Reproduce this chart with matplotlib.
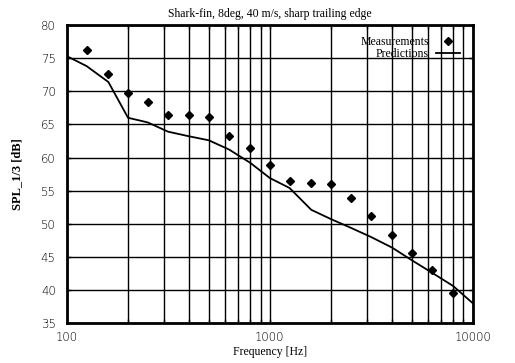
import matplotlib
matplotlib.use("Agg")
import matplotlib.pyplot as plt
from matplotlib.ticker import LogLocator, NullFormatter, FixedLocator

freq_meas = [125, 160, 200, 250, 315, 400, 500, 630, 800, 1000, 1250, 1600,
             2000, 2500, 3150, 4000, 5000, 6300, 8000]
spl_meas = [76.2, 72.6, 69.7, 68.4, 66.4, 66.4, 66.1, 63.2, 61.4, 58.9, 56.5,
            56.2, 56.0, 53.9, 51.2, 48.3, 45.6, 43.0, 39.5]

freq_pred = [100, 125, 160, 200, 250, 315, 400, 500, 630, 800, 1000, 1250,
             1600, 2000, 2500, 3150, 4000, 5000, 6300, 8000, 10000]
spl_pred = [75.3, 73.8, 71.4, 66.0, 65.3, 63.9, 63.2, 62.6, 61.2, 59.2, 56.9,
            55.4, 52.1, 50.7, 49.4, 48.0, 46.4, 44.5, 42.6, 40.6, 38.0]

title = "Shark-fin, 8deg, 40 m/s, sharp trailing edge"
xlabel = "Frequency [Hz]"
ylabel = "SPL_1/3 [dB]"
xticks = [100, 1000, 10000]
yticks = [35, 40, 45, 50, 55, 60, 65, 70, 75, 80]

serif = ["Liberation Serif", "DejaVu Serif"]

fig = plt.figure(figsize=(5.15, 3.63), dpi=100)
ax = fig.add_axes([0.130, 0.110, 0.788, 0.821])

ax.set_xscale("log")
ax.set_xlim(100, 10000)
ax.set_ylim(35, 80)

ax.plot(freq_pred, spl_pred, color="black", lw=1.3, label="Predictions", zorder=3)
ax.plot(freq_meas, spl_meas, linestyle="none", marker="D", ms=3.6, color="black",
        label="Measurements", zorder=4)

ax.xaxis.set_major_locator(FixedLocator(xticks))
ax.xaxis.set_minor_locator(LogLocator(base=10, subs=range(2, 10)))
ax.xaxis.set_minor_formatter(NullFormatter())
ax.set_xticklabels([str(t) for t in xticks])
ax.set_yticks(yticks)

ax.grid(True, which="both", axis="x", color="black", lw=1)
ax.grid(True, which="major", axis="y", color="black", lw=1)

ax.tick_params(which="both", direction="in", top=True, right=True, length=3,
               width=1, labelsize=8.5)
ax.tick_params(axis="y", pad=8)
ax.tick_params(axis="x", pad=6)
for lab in ax.get_xticklabels() + ax.get_yticklabels():
    lab.set_family("DejaVu Sans")
    lab.set_fontweight("light")
for s in ax.spines.values():
    s.set_linewidth(2)
    s.set_zorder(5)

ax.set_title(title, fontsize=8.5, family=serif, pad=6)
ax.set_xlabel(xlabel, fontsize=8.5, family=serif, labelpad=2)
ax.set_ylabel(ylabel, fontsize=9, family=serif, fontweight="bold", labelpad=13)

handles, labels = ax.get_legend_handles_labels()
leg = ax.legend(handles[::-1], labels[::-1], loc="upper right", frameon=False,
                markerfirst=False, prop={"family": serif, "size": 8.5},
                handlelength=2.0, borderaxespad=0.3, labelspacing=0.0,
                handletextpad=0.6, bbox_to_anchor=(0.988, 0.99))
for t in leg.get_texts():
    t.set_ha("right")

fig.savefig("out.png", dpi=100)
